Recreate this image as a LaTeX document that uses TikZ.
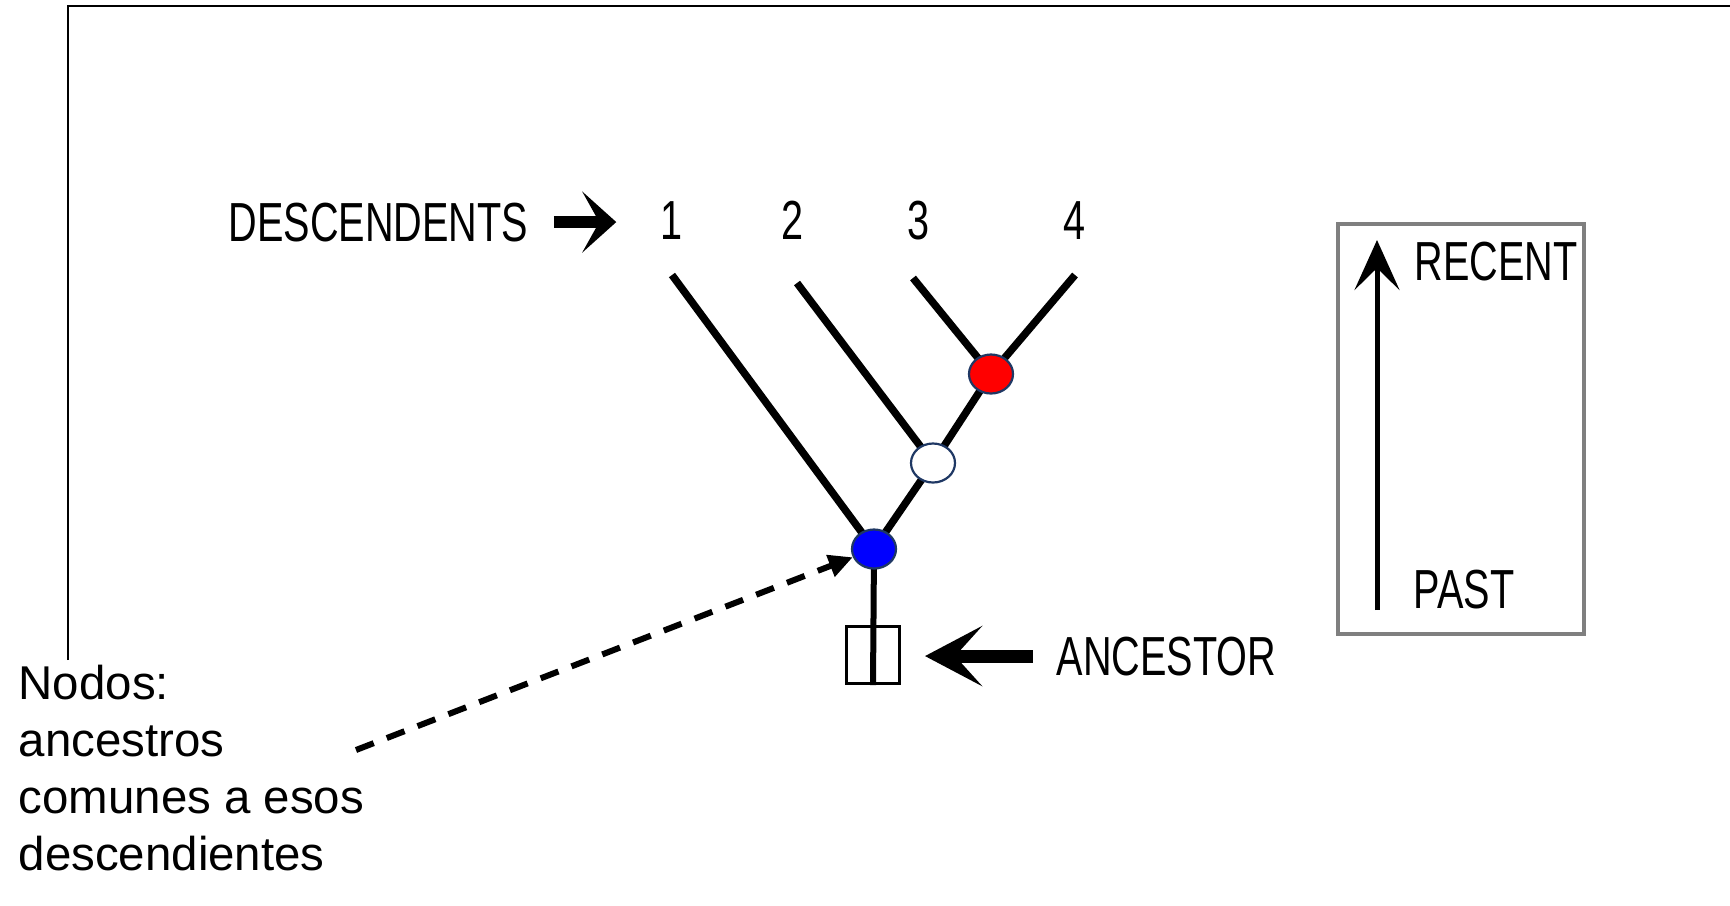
\documentclass[tikz,border=0pt]{standalone}
\usepackage{fontspec}
\setmainfont{Liberation Sans}
\usepackage{graphicx}
\usetikzlibrary{arrows.meta,shapes.geometric,backgrounds}
\definecolor{navy}{HTML}{1F3864}
\definecolor{framegray}{HTML}{7F7F7F}
\newcommand{\narrowtxt}[1]{\scalebox{0.72}[1]{#1}}
\tikzset{
  lbl/.style={inner sep=0pt, font=\fontsize{15.65pt}{18pt}\selectfont},
  hub/.style={ellipse, draw=navy, line width=0.022cm, minimum width=0.44cm, minimum height=0.39cm, inner sep=0pt},
  treeline/.style={line width=0.075cm, line cap=butt},
  stemline/.style={line width=0.06cm},
  fatarrow/.style={line width=0.12cm},
}
\begin{document}
\begin{tikzpicture}[x=0.01cm,y=-0.01cm]
\useasboundingbox (0,0) rectangle (1730,905);
% frame
\draw[line width=0.02cm] (68,660) -- (68,6) -- (1730,6);

% labels
\node[lbl, anchor=base west] (desc) at (228,241) {\narrowtxt{DESCENDENTS}};
\node[lbl, anchor=base] (n1) at (672,239) {\narrowtxt{1}};
\node[lbl, anchor=base] (n2) at (793,239) {\narrowtxt{2}};
\node[lbl, anchor=base] (n3) at (919,239) {\narrowtxt{3}};
\node[lbl, anchor=base] (n4) at (1075,239) {\narrowtxt{4}};
\node[lbl, anchor=base west] (anc) at (1056,675) {\narrowtxt{ANCESTOR}};

% tree
\coordinate (t1) at (672,275);
\coordinate (t2) at (797,283);
\coordinate (t3) at (913,278);
\coordinate (t4) at (1075,275);
\node[hub, fill=red] (red) at (991,374) {};
\node[hub, fill=white] (white) at (933,463) {};
\node[hub, fill=blue] (blue) at (874,549) {};
\node[rectangle, draw, line width=0.03cm, minimum width=0.53cm, minimum height=0.57cm, inner sep=0pt] (box) at (873,655) {};
\begin{scope}[on background layer]
\draw[treeline] (t1) -- (blue.center);
\draw[treeline] (t2) -- (white.center);
\draw[treeline] (t3) -- (red.center);
\draw[treeline] (t4) -- (red.center) -- (white.center) -- (blue.center);
\draw[stemline] (blue.center) -- (box.south);
\end{scope}

% arrows
\draw[fatarrow, -{Stealth[length=0.34cm,width=0.61cm,inset=0.17cm]}, shorten <=0.25cm, shorten >=0.44cm] (desc.east) -- (desc.east -| n1.west);
\draw[line width=0.13cm, -{Stealth[length=0.57cm,width=0.6cm,inset=0.27cm]}, shorten <=0.23cm, shorten >=0.24cm] (anc.west) -- (anc.west -| box.east);

% legend
\node[draw=framegray, line width=0.04cm, minimum width=2.46cm, minimum height=4.10cm, inner sep=0pt] (legend) at (1461,429) {};
\node[lbl, anchor=base west] (recent) at (1414,280) {\narrowtxt{RECENT}};
\node[lbl, anchor=base west] (past) at (1413,608) {\narrowtxt{PAST}};
\coordinate (pastend) at (1377,610);
\coordinate (recentend) at (1377,240);
\draw[line width=0.05cm, -{Stealth[length=0.5cm,width=0.45cm,inset=0.22cm]}] (pastend) -- (recentend);

% note
\node[anchor=base west, align=left, inner sep=0pt, font=\fontsize{13.49pt}{16.2pt}\selectfont] (note) at (18,870) {Nodos:\\ancestros\\comunes a esos\\descendientes};
\coordinate (dstart) at (356,750);
\draw[line width=0.06cm, dash pattern=on 0.19cm off 0.14cm, -{Triangle[length=0.24cm,width=0.22cm]}] (dstart) -- (blue);
\end{tikzpicture}
\end{document}
